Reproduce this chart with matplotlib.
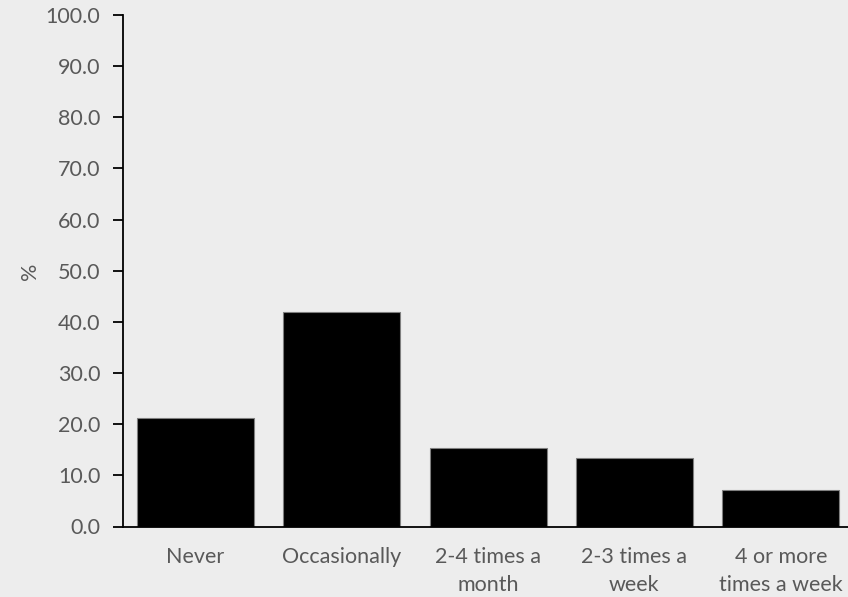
import matplotlib
matplotlib.use("Agg")
import matplotlib.pyplot as plt

categories = ["Never", "Occasionally", "2-4 times a\nmonth", "2-3 times a\nweek", "4 or more\ntimes a week"]
values = [21.3, 41.9, 15.4, 13.3, 7.2]
yticks = [0, 10, 20, 30, 40, 50, 60, 70, 80, 90, 100]

bg = "#EDEDED"
text_color = "#595959"
plt.rcParams["font.family"] = ["Lato", "DejaVu Sans"]
fs = 15.5

W, H = 848, 597
fig = plt.figure(figsize=(W / 100, H / 100), dpi=100, facecolor=bg)
ax = fig.add_axes([122.7 / W, (H - 526.5) / H, 1 - 122.7 / W, (526.5 - 15) / H])
ax.set_facecolor(bg)

x = list(range(len(categories)))
ax.bar(x, values, width=0.8, color="black", edgecolor="#7f7f7f", linewidth=0.8, zorder=2)

ax.set_xlim(-0.496, len(categories) - 1 + 0.459)
ax.set_ylim(0, 100)
ax.set_yticks(yticks)
ax.set_yticklabels([f"{v:.1f}" for v in yticks], color=text_color, fontsize=fs)
ax.set_xticks(x)
ax.set_xticklabels(categories, color=text_color, fontsize=fs, linespacing=1.5)
ax.tick_params(axis="x", length=0, pad=15)
ax.tick_params(axis="y", length=7, width=1.3, color="black", pad=9)

for side in ("top", "right"):
    ax.spines[side].set_visible(False)
for side in ("left", "bottom"):
    ax.spines[side].set_linewidth(1.3)
    ax.spines[side].set_color("black")

fig.text(30 / W, 1 - 271 / H, "%", rotation=90, color=text_color, fontsize=fs,
         ha="center", va="center")

fig.savefig("out.png", dpi=100, facecolor=bg)
